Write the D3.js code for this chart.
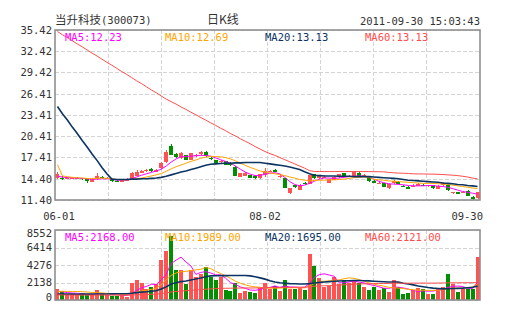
<!DOCTYPE html>
<html><head><meta charset="utf-8">
<script src="https://cdn.jsdelivr.net/npm/d3@7"></script>
<style>body{margin:0;background:#fff}svg{display:block}</style>
</head><body>
<svg id="c" width="505" height="330"></svg>
<script>
// ---- data ----
const titleName = "当升科技";
const titleCode = "(300073)";
const periodLabel = "日K线";
const stamp = "2011-09-30 15:03:43";

const openP = [14.45,14.55,14.35,14.4,14.45,14.5,14.3,14.0,14.3,14.7, 14.35,14.4,14.15,14.0,14.15,14.35,14.85,15.25,15.45,15.75, 15.35,15.9,16.7,19.0,17.9,17.3,17.7,17.1,17.55,17.85, 18.2,17.35,17.05,16.7,16.85,16.65,16.1,14.7,14.8,14.95, 14.85,14.5,14.9,15.35,15.7,14.75,14.5,12.45,13.5,12.8, 13.8,13.65,15.05,14.45,14.65,13.85,14.25,14.6,15.15,14.65, 14.7,15.15,14.85,14.6,14.15,13.75,13.75,13.1,13.75,14.0, 13.4,13.3,13.3,13.4,13.55,13.35,13.5,13.0,13.45,13.5, 12.45,12.55,12.5,12.7,11.85,11.65];
const highP = [15.3,14.8,14.6,14.65,14.6,14.55,14.4,14.5,15.15,14.8, 14.6,14.45,14.3,14.3,14.5,15.35,15.6,15.65,15.8,15.9, 15.8,16.8,18.4,19.35,18.0,18.2,17.8,18.1,17.9,18.3, 18.35,17.45,17.1,17.05,16.95,16.7,16.15,15.2,15.35,15.0, 14.9,15.1,15.9,15.6,15.85,15.05,14.55,13.1,13.55,13.6, 13.95,15.0,15.1,14.95,14.9,14.4,14.8,15.1,15.25,14.95, 15.35,15.3,15.05,14.7,14.2,13.95,13.8,13.65,14.2,14.05, 13.55,13.35,13.6,13.75,13.7,13.55,13.55,13.45,13.9,13.6, 12.6,12.6,12.65,12.75,11.9,12.6];
const lowP = [14.35,14.25,14.3,14.35,14.4,14.25,13.85,13.95,14.25,14.5, 14.3,14.0,13.9,13.95,14.1,14.3,14.8,15.2,15.4,15.4, 15.3,15.85,16.6,17.7,17.4,17.25,17.0,17.0,17.5,17.8, 17.5,17.05,16.55,16.65,16.3,16.2,14.75,14.6,14.75,14.5, 14.4,14.4,14.7,15.3,15.35,14.55,13.05,12.25,13.15,12.75, 13.55,13.6,14.4,14.4,14.5,13.8,14.2,14.55,14.65,14.6, 14.65,14.8,14.75,13.95,13.8,13.65,13.25,12.95,13.7,13.6, 13.2,12.9,13.2,13.35,13.35,13.3,13.0,12.95,13.4,12.7, 12.3,12.25,12.35,11.95,11.42,11.55];
const closeP = [15.05,14.45,14.5,14.55,14.5,14.3,14.1,14.4,14.8,14.6, 14.5,14.05,14.0,14.2,14.4,15.25,15.35,15.5,15.7,15.5, 15.7,16.65,18.2,17.8,17.5,18.1,17.05,18.0,17.8,18.2, 17.55,17.25,16.6,16.95,16.35,16.3,14.8,15.15,15.25,14.55, 14.55,15.05,15.55,15.5,15.4,14.85,13.1,13.05,13.2,13.5, 13.7,14.9,14.45,14.8,14.7,14.3,14.6,15.05,14.7,14.85, 15.3,14.85,14.95,14.05,13.85,13.8,13.3,13.6,14.1,13.65, 13.35,12.95,13.4,13.65,13.45,13.45,13.05,13.4,13.85,12.75, 12.5,12.3,12.55,12.0,11.5,12.55];
const volume = [1340,1100,730,730,730,890,610,610,1240,730, 650,530,530,650,330,2120,2440,2120,1340,1630, 1950,4890,5980,7850,3700,3660,1980,3620,2780,3200, 4070,2850,2440,2770,1220,1100,2040,860,1100,940, 860,1460,2100,1340,1710,1100,2440,1340,1340,1500, 1220,5620,4150,2700,1630,1710,2850,2000,2320,2120, 2400,2040,1630,1220,1630,1220,1500,1020,2440,1630, 730,860,1220,1500,1340,730,730,1340,1630,3180, 1950,1020,1340,1340,1340,5250];

const ma5 = [14.75,14.65,14.55,14.55,14.5,14.45,14.4,14.3,14.35,14.4, 14.4,14.35,14.2,14.2,14.2,14.4,14.65,14.9,15.1,15.3, 15.5,15.75,16.2,16.75,17.2,17.5,17.55,17.6,17.65,17.7, 17.7,17.6,17.35,17.1,16.85,16.6,16.2,15.75,15.35,15.05, 14.85,14.85,15.05,15.2,15.25,15.1,14.6,14.0,13.6,13.4, 13.5,13.75,14.05,14.35,14.5,14.5,14.45,14.5,14.6,14.7, 14.75,14.8,14.75,14.6,14.35,14.05,13.85,13.7,13.65,13.6, 13.55,13.45,13.4,13.4,13.4,13.45,13.45,13.35,13.3,13.2, 13.0,12.8,12.6,12.5,12.35,12.23];
const ma10 = [16.4,14.8,14.7,14.6,14.55,14.5,14.45,14.4,14.45,14.5, 14.45,14.4,14.3,14.25,14.25,14.3,14.4,14.5,14.65,14.8, 14.95,15.15,15.45,15.8,16.1,16.35,16.6,16.85,17.05,17.3, 17.45,17.55,17.55,17.5,17.4,17.2,16.95,16.6,16.3,16.0, 15.75,15.5,15.35,15.2,15.1,15.0,14.85,14.65,14.5,14.3, 14.2,14.1,14.15,14.2,14.2,14.25,14.25,14.3,14.35,14.45, 14.55,14.6,14.65,14.6,14.35,14.25,14.2,14.1,14.05,14.0, 13.95,13.9,13.85,13.8,13.75,13.75,13.75,13.7,13.65,13.6, 13.5,13.4,13.3,13.2,13.1,13.0];
const ma20 = [24.6,23.6,22.7,21.7,20.8,19.8,18.9,17.9,17.0,16.0, 15.1,14.35,14.3,14.3,14.3,14.35,14.35,14.4,14.4,14.45, 14.5,14.6,14.75,14.95,15.15,15.35,15.5,15.7,15.9,16.1, 16.3,16.45,16.5,16.55,16.6,16.6,16.65,16.65,16.7,16.7, 16.7,16.7,16.6,16.5,16.4,16.3,16.2,16.05,15.9,15.7, 15.4,15.1,14.9,14.85,14.8,14.8,14.8,14.75,14.75,14.75, 14.7,14.7,14.7,14.7,14.65,14.6,14.55,14.5,14.45,14.4, 14.3,14.2,14.15,14.1,14.05,14.0,13.95,13.9,13.8,13.75, 13.7,13.6,13.55,13.45,13.4,13.3];
const ma60 = [35.2,34.75,34.35,33.9,33.45,33.05,32.6,32.15,31.75,31.3, 30.85,30.45,30.0,29.55,29.15,28.7,28.25,27.85,27.4,26.95, 26.55,26.1,25.65,25.3,24.95,24.55,24.2,23.8,23.45,23.05, 22.7,22.3,21.95,21.55,21.2,20.8,20.45,20.05,19.7,19.35, 18.95,18.6,18.25,17.95,17.7,17.4,17.1,16.8,16.5,16.2, 15.9,15.55,15.43,15.43,15.42,15.42,15.42,15.43,15.43,15.42, 15.42,15.42,15.42,15.41,15.4,15.4,15.38,15.3,15.25,15.2, 15.18,15.15,15.1,15.08,15.08,15.06,15.05,15.03,15.0,14.95, 14.9,14.85,14.75,14.65,14.5,14.38];

const vma5 = [1060,1000,900,850,830,780,700,680,740,760, 780,760,640,610,540,780,1150,1500,1650,1920, 1900,2450,3150,4450,4870,5230,4650,4160,3130,3370, 3470,3300,3070,3070,2680,2120,1910,1600,1420,1220, 1180,1290,1500,1540,1720,1540,1720,1590,1590,1530, 1570,2010,2770,3100,3200,3050,2900,2100,2100,2200, 2330,2180,2100,1900,1780,1620,1440,1420,1560,1560, 1470,1340,1180,1040,1110,1080,1090,1230,1270,1540, 1670,1700,1650,1430,1400,2168];
const vma10 = [1050,1060,1050,1040,1040,1020,980,920,900,870, 800,750,710,700,680,800,980,1100,1200,1300, 1450,1900,2450,3000,3300,3450,3500,3600,3680,3750, 3950,3850,3500,3250,2950,2650,2300,2050,1850,1700, 1600,1550,1470,1450,1450,1450,1500,1480,1500,1500, 1480,1720,2050,2250,2300,2330,2400,2450,2600,2700, 2650,2500,2300,2100,1950,1800,1700,1550,1500,1450, 1400,1300,1250,1200,1200,1180,1180,1200,1250,1400, 1450,1450,1480,1500,1580,1989];
const vma20 = [730,720,720,720,710,720,720,720,730,740, 740,750,760,770,770,820,900,960,1000,1060, 1130,1340,1600,1950,2100,2250,2320,2450,2560,2680, 2850,2950,2960,2980,2980,2990,3000,3000,2990,2950, 2850,2700,2550,2350,2200,2100,2050,2000,1980,1950, 1950,2000,2080,2150,2200,2250,2300,2330,2350,2350, 2380,2380,2360,2340,2300,2260,2230,2200,2200,2180, 2050,1950,1850,1720,1620,1520,1450,1400,1360,1380, 1400,1420,1450,1500,1560,1695];
const vma60 = [620,620,610,600,600,600,600,590,600,600, 600,590,590,590,580,600,630,650,670,690, 720,790,870,980,1040,1100,1130,1180,1220,1260, 1320,1360,1390,1420,1430,1440,1460,1460,1470,1470, 1470,1480,1500,1510,1520,1520,1540,1540,1550,1560, 1560,1630,1680,1720,1740,1760,1800,1830,1860,1890, 1920,1950,1970,1980,2000,2010,2020,2020,2050,2060, 2050,2050,2060,2060,2070,2060,2060,2070,2080,2100, 2100,2100,2110,2110,2110,2121];

const priceTicks = ["11.40","14.40","17.41","20.41","23.41","26.41","29.42","32.42","35.42"];
const volTicks = ["0","2138","4276","6414","8552"];
const xTickLabels = ["06-01","08-02","09-30"];
const xTickIndex = [0,42,85];
const priceLegend = ["MA5:12.23","MA10:12.69","MA20:13.13","MA60:13.13"];
const volLegend = ["MA5:2168.00","MA10:1989.00","MA20:1695.00","MA60:2121.00"];

// ---- styles ----
const UP = "#ff5252", DOWN = "#008f00";
const maColors = ["#ff00ff","#ffa500","#0b3463","#ff4d4d"];
const maWidths = [1,1,1.6,1];
const mono = "'DejaVu Sans Mono', 'Liberation Mono', monospace";
const cjk = "'Noto Sans CJK SC', sans-serif";

const L = 55, R = 480, PT = 30, PB = 200, VT = 230, VB = 300;
const svg = d3.select("#c");
svg.append("rect").attr("width",505).attr("height",330).attr("fill","#fff");

const n = closeP.length;
const x = d3.scaleBand().domain(d3.range(n)).range([L,R]).paddingInner(0.2).paddingOuter(0.1);
const bw = x.bandwidth();
const cx = i => x(i) + bw/2;
const yP = d3.scaleLinear().domain([+priceTicks[0], +priceTicks[priceTicks.length-1]]).range([PB,PT]);
const yV = d3.scaleLinear().domain([0, +volTicks[volTicks.length-1]]).range([VB,VT]);
const colX = d3.scaleLinear().domain([0,8]).range([L,R]);

function grid(top, bottom, yScale, ticks, clampLabels){
  const g = svg.append("g");
  // vertical dashed
  g.selectAll("line.v").data(d3.range(1,8)).join("line")
    .attr("x1",d=>colX(d)).attr("x2",d=>colX(d)).attr("y1",top).attr("y2",bottom)
    .attr("stroke","#d4d4d4").attr("stroke-dasharray","4,2").attr("shape-rendering","crispEdges");
  const ax = d3.axisLeft(yScale).tickValues(ticks.map(Number)).tickSize(-(R-L)).tickPadding(3)
    .tickFormat((d,i)=>ticks[i]);
  const a = svg.append("g").attr("transform",`translate(${L},0)`).call(ax);
  a.select(".domain").remove();
  a.selectAll(".tick line").attr("stroke","#d4d4d4").attr("stroke-dasharray","4,2").attr("shape-rendering","crispEdges");
  a.selectAll(".tick text").attr("font-family",mono).attr("font-size",10.5).attr("fill","#333").attr("x",-3);
  if (clampLabels){
    a.selectAll(".tick text").attr("dy",(d)=>{
      const yy = yScale(d);
      if (yy <= top+0.5) return "0.65em";
      if (yy >= bottom-0.5) return "0.0em";
      return "0.32em";
    });
  }
}
grid(PT,PB,yP,priceTicks,false);
grid(VT,VB,yV,volTicks,true);

// candles
const cg = svg.append("g").attr("shape-rendering","crispEdges");
d3.range(n).forEach(i=>{
  const up = closeP[i] >= openP[i];
  const col = up ? UP : DOWN;
  const xm = Math.round(cx(i)) + 0.5;
  cg.append("line").attr("x1",xm).attr("x2",xm).attr("y1",yP(highP[i])).attr("y2",yP(lowP[i])).attr("stroke",col);
  const y0 = yP(Math.max(openP[i],closeP[i])), y1 = yP(Math.min(openP[i],closeP[i]));
  cg.append("rect").attr("x",Math.round(x(i))).attr("width",Math.round(bw)).attr("y",y0)
    .attr("height",Math.max(1,y1-y0)).attr("fill",col);
});
// volume bars
svg.append("g").attr("shape-rendering","crispEdges").selectAll("rect").data(volume).join("rect")
  .attr("x",(d,i)=>Math.round(x(i))).attr("width",Math.round(bw))
  .attr("y",d=>yV(d)).attr("height",d=>VB-yV(d))
  .attr("fill",(d,i)=>closeP[i]>=openP[i]?UP:DOWN);

// MA lines
function maLine(arr, yScale, k){
  svg.append("path").datum(arr).attr("fill","none").attr("stroke",maColors[k]).attr("stroke-width",maWidths[k])
    .attr("d", d3.line().x((d,i)=>cx(i)).y(d=>yScale(d)));
}
[ma5,ma10,ma20,ma60].forEach((a,k)=>maLine(a,yP,k));
[vma5,vma10,vma20,vma60].forEach((a,k)=>maLine(a,yV,k));

// frames
[[PT,PB],[VT,VB]].forEach(([t,b])=>{
  svg.append("rect").attr("x",L).attr("y",t).attr("width",R-L).attr("height",b-t)
    .attr("fill","none").attr("stroke","#8f8f8f").attr("stroke-width",1.6);
});

// legends
priceLegend.forEach((s,k)=>svg.append("text").attr("x",L+10+k*100).attr("y",40.5)
  .attr("font-family",mono).attr("font-size",10.5).attr("fill",maColors[k]).text(s));
volLegend.forEach((s,k)=>svg.append("text").attr("x",L+10+k*100).attr("y",241)
  .attr("font-family",mono).attr("font-size",10.5).attr("fill",maColors[k]).text(s));

// x labels
xTickLabels.forEach((s,k)=>{
  const last = k === xTickLabels.length-1;
  svg.append("text").attr("x", last ? R+3 : cx(xTickIndex[k]) + (k===0?1.5:0)).attr("y",220)
    .attr("text-anchor", last ? "end" : "middle")
    .attr("font-family",mono).attr("font-size",10.5).attr("fill","#333").text(s);
});

// title
const t = svg.append("text").attr("x",L).attr("y",24).attr("fill","#333");
t.append("tspan").attr("font-family",cjk).attr("font-size",11.5).text(titleName);
t.append("tspan").attr("font-family",mono).attr("font-size",10.5).text(titleCode);
svg.append("text").attr("x",207).attr("y",24).attr("font-family",cjk).attr("font-size",12)
  .attr("fill","#333").text(periodLabel);
svg.append("text").attr("x",R).attr("y",24.5).attr("text-anchor","end").attr("font-family",mono)
  .attr("font-size",10.5).attr("fill","#333").text(stamp);
</script>
</body></html>
